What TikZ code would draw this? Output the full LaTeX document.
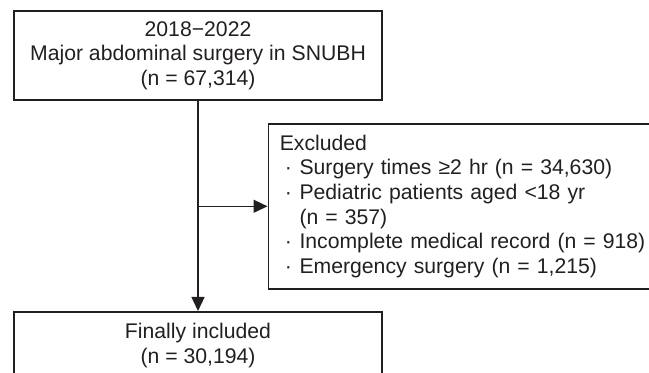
\documentclass[tikz,border=0pt]{standalone}
\usepackage{fontspec}
\setmainfont{Liberation Sans}
\usetikzlibrary{arrows.meta,positioning}
\definecolor{ink}{RGB}{35,31,32}
\newcommand{\itemdot}{\hspace{2.5pt}·\hspace{0.3pt} }

\begin{document}
\begin{tikzpicture}[x=1pt,y=1pt,
  box/.style={draw=ink,line width=0.8pt,text=ink,inner sep=0pt,
    font=\fontsize{10.6}{12.3}\selectfont},
  flow/.style={draw=ink,line width=0.65pt,-{Triangle[length=7pt,width=6.5pt]}}]
  \useasboundingbox (0,0) rectangle (324.5,186.5);
  \clip (0,0) rectangle (324.5,186.5);

  \node[box,minimum width=184pt,minimum height=44.5pt,align=center] (cohort) at (99,158.75)
    {2018−2022\\Major abdominal surgery in SNUBH\\(n = 67,314)};
  \node[box,anchor=north west,minimum height=82.5pt,text width=200pt,inner xsep=5.75pt,align=left] (excl) at (133.75,125)
    {Excluded\\
     \itemdot Surgery times ≥2 hr (n = 34,630)\\
     \itemdot Pediatric patients aged <18 yr\\
     \phantom{\itemdot}(n = 357)\\
     \itemdot Incomplete medical record (n = 918)\\
     \itemdot Emergency surgery (n = 1,215)};
  \node[box,anchor=north,minimum width=184pt,minimum height=33.5pt,align=center] (final) at (99,31)
    {Finally included\\(n = 30,194)};

  \coordinate (split) at (cohort.south |- excl.west);
  \draw[flow] (cohort.south) -- (final.north);
  \draw[flow] (split) -- (excl.west);
\end{tikzpicture}
\end{document}
